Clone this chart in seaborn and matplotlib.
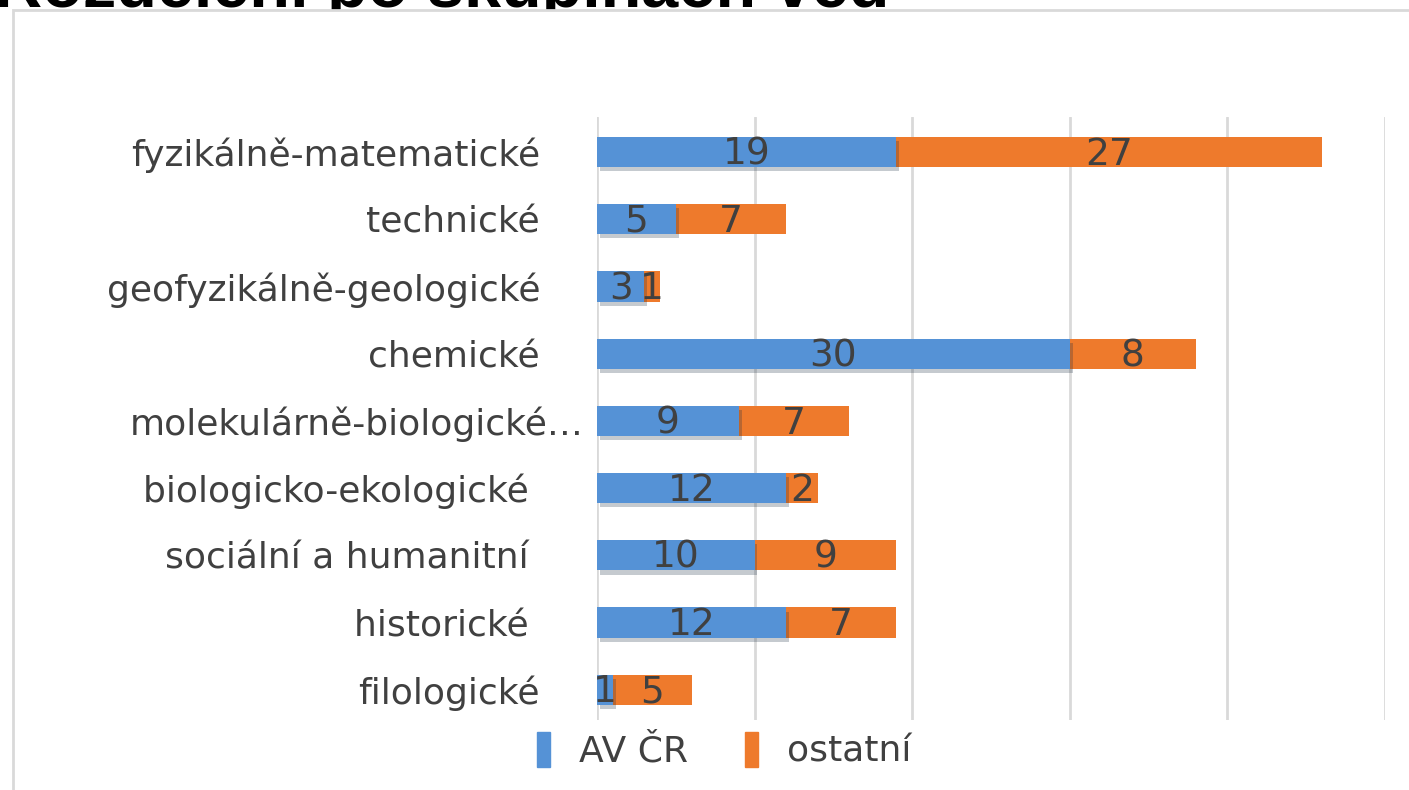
import matplotlib
matplotlib.use("Agg")
import matplotlib.pyplot as plt
import matplotlib.patheffects as pe
import matplotlib.transforms as mtransforms
from matplotlib.patches import Rectangle
import pandas as pd
import seaborn as sns

# Data
categories = ["fyzikálně-matematické", "technické", "geofyzikálně-geologické",
              "chemické", "molekulárně-biologické…", "biologicko-ekologické ",
              "sociální a humanitní ", "historické ", "filologické"]
av_cr = [19, 5, 3, 30, 9, 12, 10, 12, 1]
ostatni = [27, 7, 1, 8, 7, 2, 9, 7, 5]
series_names = ["AV ČR", "ostatní"]

BLUE = "#5592d6"
ORANGE = "#ee7a2c"
TEXT = "#404040"

df = pd.DataFrame({"kat": categories, "av": av_cr, "ost": ostatni})
df["total"] = df["av"] + df["ost"]

sns.set_theme(style="white")
plt.rcParams["font.family"] = ["DejaVu Sans"]

fig = plt.figure(figsize=(14.09, 7.9), dpi=100)
ax = fig.add_axes([0.4237, 0.0886, 0.5593, 0.7633])
ax.set_zorder(3)
ax.patch.set_alpha(0)

# stacked bars: total in orange, AV ČR in blue on top
sns.barplot(data=df, x="total", y="kat", color=ORANGE, orient="h",
            width=0.45, saturation=1, ax=ax, zorder=2)
sns.barplot(data=df, x="av", y="kat", color=BLUE, orient="h",
            width=0.45, saturation=1, ax=ax, zorder=3)

n = len(categories)
for i, p in enumerate(ax.patches):
    p.set_linewidth(0)
    if i >= n:
        p.set_path_effects([pe.SimplePatchShadow(offset=(2, -3), alpha=0.25),
                            pe.Normal()])

for i, row in df.iterrows():
    ax.text(row["av"] / 2, i + 0.04, str(row["av"]), ha="center", va="center",
            fontsize=27, color=TEXT, zorder=5)
    ax.text(row["av"] + row["ost"] / 2, i + 0.04, str(row["ost"]), ha="center",
            va="center", fontsize=27, color=TEXT, zorder=5)

ax.set_xlim(0, 50)
ax.set_ylim(8.45, -0.52)
ax.set_xticks([0, 10, 20, 30, 40, 50])
ax.set_xticklabels([])
ax.grid(axis="x", color="#d9d9d9", linewidth=2)
ax.set_axisbelow(True)
ax.set_xlabel("")
ax.set_ylabel("")
ax.tick_params(axis="y", labelsize=26, labelcolor=TEXT, length=0, pad=41)
ax.tick_params(axis="x", length=0)
for s in ax.spines.values():
    s.set_visible(False)

# the truncated label sits further right in the original
lab = ax.get_yticklabels()[4]
lab.set_transform(lab.get_transform() +
                  mtransforms.ScaledTranslation(0.44, 0, fig.dpi_scale_trans))

# legend
handles = [Rectangle((0, 0), 1, 1, color=BLUE), Rectangle((0, 0), 1, 1, color=ORANGE)]
leg = fig.legend(handles, series_names, loc="center", bbox_to_anchor=(0.514, 0.05),
                 ncol=2, frameon=False, fontsize=26, labelcolor=TEXT,
                 handlelength=0.35, handleheight=1.1, columnspacing=1.6,
                 handletextpad=0.8)
leg.set_zorder(4)

# white chart area with frame, drawn over the cut-off title
frame = Rectangle((13 / 1409, -0.1), 1.2, 1 - 10 / 790 + 0.1,
                  transform=fig.transFigure, facecolor="white",
                  edgecolor="#d9d9d9", linewidth=2, zorder=2)
fig.patches.append(frame)
fig.text(-0.004, 1 - 7 / 790, "Rozdělení po skupinách věd", fontsize=48,
         fontweight="bold", color="black", ha="left", va="baseline",
         family=["Liberation Sans", "DejaVu Sans"], zorder=1)

fig.savefig("out.png", dpi=100)
